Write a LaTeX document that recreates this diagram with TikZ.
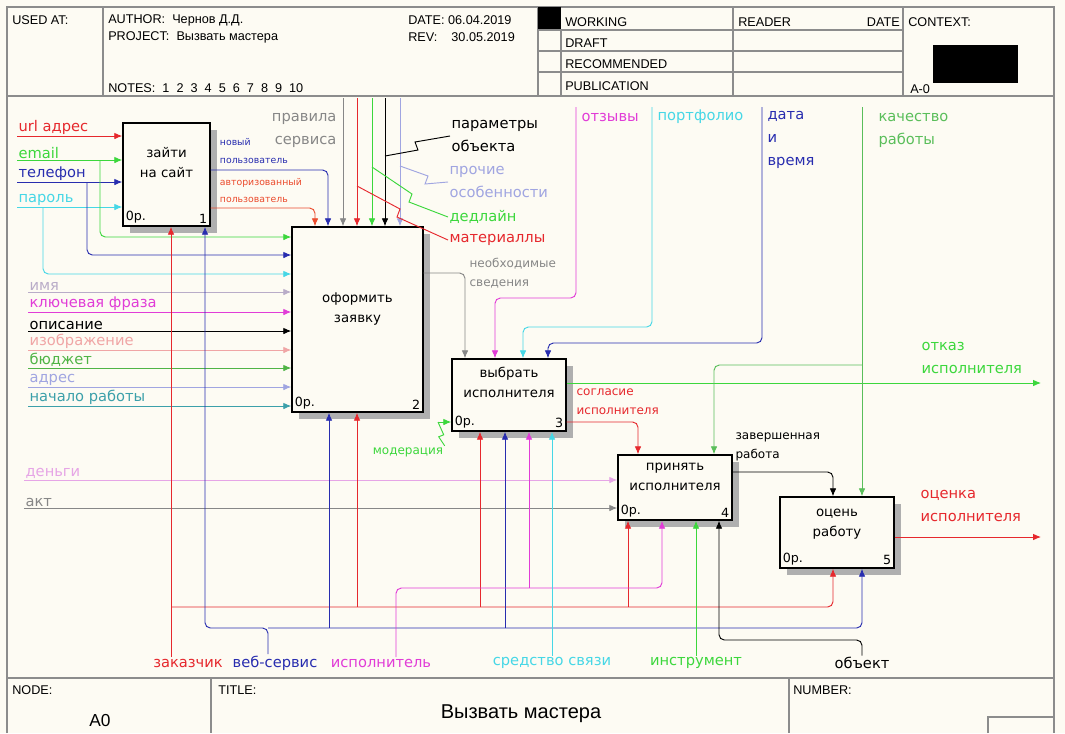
\documentclass[tikz,border=0pt]{standalone}
\usepackage{fontspec}
\setmainfont{Liberation Sans}
\newfontfamily\lblfont{DejaVu Sans}
\usepackage{xcolor}
\usetikzlibrary{arrows.meta,positioning,calc,shadows}
\definecolor{paper}{RGB}{253,251,243}
\definecolor{shadowGray}{RGB}{175,175,175}
\definecolor{frameGray}{RGB}{140,140,140}
\definecolor{cRed}{RGB}{230,40,45}
\definecolor{cOrange}{RGB}{235,75,45}
\definecolor{cGreen}{RGB}{60,215,60}
\definecolor{cBlue}{RGB}{40,45,175}
\definecolor{cCyan}{RGB}{70,215,230}
\definecolor{cGray}{RGB}{135,135,135}
\definecolor{cMag}{RGB}{225,60,215}
\definecolor{cPink}{RGB}{240,165,165}
\definecolor{cBudget}{RGB}{80,180,70}
\definecolor{cLav}{RGB}{160,165,225}
\definecolor{cTeal}{RGB}{60,160,170}
\definecolor{cName}{RGB}{185,172,200}
\definecolor{cMoney}{RGB}{230,165,230}
\definecolor{cQual}{RGB}{90,190,90}

\begin{document}
\begin{tikzpicture}[
  x=0.75pt, y=-0.75pt,
  every node/.style={font=\fontsize{9.5}{11}\selectfont},
  hdr/.style={anchor=west, inner sep=0pt},
  fbox/.style={draw, line width=1.1pt, fill=paper, inner sep=0pt,
    drop shadow={shadow xshift=5pt, shadow yshift=-5pt, fill=shadowGray, opacity=1}},
  btxt/.style={font=\lblfont\fontsize{10}{15}\selectfont, align=center},
  cornertxt/.style={font=\lblfont\fontsize{9.5}{10}\selectfont, inner sep=2.5pt},
  lbl/.style={font=\lblfont\fontsize{11}{17.25}\selectfont, inner sep=1pt, align=left},
  slbl/.style={font=\lblfont\fontsize{9}{14.5}\selectfont, inner sep=1pt, align=left},
  tlbl/.style={font=\lblfont\fontsize{7}{13}\selectfont, inner sep=0.5pt, align=left},
  arr/.style={-{Latex[length=6pt,width=5pt]}, line width=0.7pt},
  ln/.style={line width=0.7pt},
  frm/.style={draw=frameGray, line width=1pt}
]
  \path[fill=paper, use as bounding box] (0,0) rectangle (1065,733);

  % form
  \draw[frm] (7,733) -- (7,7) -- (1054,7) -- (1054,733);
  \draw[frm] (7,96) -- (1054,96);
  \draw[frm] (103,7) -- (103,96);
  \draw[frm] (538,7) -- (538,96);
  \draw[frm] (561,29) -- (561,96);
  \draw[frm] (733,7) -- (733,96);
  \draw[frm] (903,7) -- (903,96);
  \draw[frm] (538,30) -- (903,30);
  \draw[frm] (538,51) -- (903,51);
  \draw[frm] (538,72) -- (903,72);
  \fill (538,7) rectangle (561,29);
  \fill (933,45) rectangle (1018,83);
  \draw[frm] (7,678) -- (1054,678);
  \draw[frm] (211,678) -- (211,733);
  \draw[frm] (789,678) -- (789,733);
  \draw[frm] (988,733) -- (988,717) -- (1054,717);

  \node[hdr] (hUsed) at (12,20) {USED AT:};
  \node[hdr] (hAuth) at (108,20) {AUTHOR:\ \ Чернов Д.Д.};
  \node[hdr] (hProj) at (108,37) {PROJECT:\ \ Вызвать мастера};
  \node[hdr] (hNotes) at (108,88) {NOTES:\ \ 1\ \ 2\ \ 3\ \ 4\ \ 5\ \ 6\ \ 7\ \ 8\ \ 9\ \ 10};
  \node[hdr] (hDate) at (408,20) {DATE:\ 06.04.2019};
  \node[hdr] (hRev) at (408,37) {REV:\ \ \ \ 30.05.2019};
  \node[hdr] (hWork) at (565,22) {WORKING};
  \node[hdr] (hDraft) at (565,43) {DRAFT};
  \node[hdr] (hRec) at (565,64) {RECOMMENDED};
  \node[hdr] (hPub) at (565,86) {PUBLICATION};
  \node[hdr] (hRead) at (738,22) {READER};
  \node[hdr, anchor=east] (hRDate) at (900,22) {DATE};
  \node[hdr] (hCtx) at (908,22) {CONTEXT:};
  \node[hdr] (hA0) at (910,89) {A-0};
  \node[hdr] (fNode) at (12,690) {NODE:};
  \node[hdr] (fTitle) at (218,690) {TITLE:};
  \node[hdr] (fNum) at (793,690) {NUMBER:};
  \node[font=\fontsize{15}{17}\selectfont] (fName) at (521,714) {Вызвать мастера};
  \node[font=\fontsize{13}{15}\selectfont] (fA0) at (100,721) {A0};

  % activities
  \node[fbox, minimum width=65.25pt, minimum height=77.25pt,
    label={[cornertxt, anchor=south west]south west:0р.},
    label={[cornertxt, anchor=south east]south east:1}] (b1) at (166.5,174.5) {};
  \node[fbox, minimum width=98.25pt, minimum height=138.75pt,
    label={[cornertxt, anchor=south west]south west:0р.},
    label={[cornertxt, anchor=south east]south east:2}] (b2) at (357.5,319.5) {};
  \node[fbox, minimum width=85.5pt, minimum height=54pt,
    label={[cornertxt, anchor=south west]south west:0р.},
    label={[cornertxt, anchor=south east]south east:3}] (b3) at (509,395) {};
  \node[fbox, minimum width=85.5pt, minimum height=48.75pt,
    label={[cornertxt, anchor=south west]south west:0р.},
    label={[cornertxt, anchor=south east]south east:4}] (b4) at (675,487.5) {};
  \node[fbox, minimum width=85.5pt, minimum height=53.25pt,
    label={[cornertxt, anchor=south west]south west:0р.},
    label={[cornertxt, anchor=south east]south east:5}] (b5) at (837,532.5) {};
  \node[btxt] (b1t) at (166.5,163) {зайти\\на сайт};
  \node[btxt] (b2t) at (357.5,309) {оформить\\заявку};
  \node[btxt] (b3t) at (509,382) {выбрать\\исполнителя};
  \node[btxt] (b4t) at (675,477) {принять\\исполнителя};
  \node[btxt] (b5t) at (837,524) {оцень\\работу};

  % inputs of 1
  \node[lbl, text=cRed, anchor=south west] (lUrl) at (17,136) {url адрес};
  \node[lbl, text=cGreen, anchor=south west] (lMail) at (17,160) {email};
  \node[lbl, text=cBlue, anchor=south west] (lTel) at (17,182) {телефон};
  \node[lbl, text=cCyan, anchor=south west] (lPw) at (17,207) {пароль};
  \draw[arr, cRed] (lUrl.south west) -- (lUrl.south west -| b1.west);
  \draw[arr, cGreen] (lMail.south west) -- (lMail.south west -| b1.west);
  \draw[arr, cBlue] (lTel.south west) -- (lTel.south west -| b1.west);
  \draw[arr, cCyan] (lPw.south west) -- (lPw.south west -| b1.west);
  \coordinate (mailB) at (100,237);
  \coordinate (telB) at (87,255);
  \coordinate (pwB) at (43,274);
  \draw[arr, cGreen, rounded corners=4pt] (lMail.south west -| mailB) -- (mailB) -- (mailB -| b2.west);
  \draw[arr, cBlue, rounded corners=4pt] (lTel.south west -| telB) -- (telB) -- (telB -| b2.west);
  \draw[arr, cCyan, rounded corners=4pt] (lPw.south west -| pwB) -- (pwB) -- (pwB -| b2.west);

  % outputs of 1
  \node[tlbl, text=cBlue, anchor=west] (lNew) at (219,151) {новый\\пользователь};
  \node[tlbl, text=cOrange, anchor=west] (lAuth) at (219,190.5) {авторизованный\\пользователь};
  \coordinate (newC) at (328,170);
  \coordinate (authC) at (315,208);
  \draw[arr, cBlue, rounded corners=4pt] (newC -| b1.east) -- (newC) -- (newC |- b2.north);
  \draw[arr, cOrange, rounded corners=4pt] (authC -| b1.east) -- (authC) -- (authC |- b2.north);

  % inputs of 2
  \node[lbl, text=cName, anchor=south west] (lName) at (28,292) {имя};
  \node[lbl, text=cMag, anchor=south west] (lKey) at (28,312) {ключевая фраза};
  \node[lbl, anchor=south west] (lDesc) at (28,331) {описание};
  \node[lbl, text=cPink, anchor=south west] (lImg) at (28,350) {изображение};
  \node[lbl, text=cBudget, anchor=south west] (lBud) at (28,368) {бюджет};
  \node[lbl, text=cLav, anchor=south west] (lAddr) at (28,387) {адрес};
  \node[lbl, text=cTeal, anchor=south west] (lStart) at (28,406) {начало работы};
  \draw[arr, cName] (lName.south west) -- (lName.south west -| b2.west);
  \draw[arr, cMag] (lKey.south west) -- (lKey.south west -| b2.west);
  \draw[arr] (lDesc.south west) -- (lDesc.south west -| b2.west);
  \draw[arr, cPink] (lImg.south west) -- (lImg.south west -| b2.west);
  \draw[arr, cBudget] (lBud.south west) -- (lBud.south west -| b2.west);
  \draw[arr, cLav] (lAddr.south west) -- (lAddr.south west -| b2.west);
  \draw[arr, cTeal] (lStart.south west) -- (lStart.south west -| b2.west);

  % controls of 2
  \coordinate (tRule) at (343,98);
  \coordinate (tMat) at (357,98);
  \coordinate (tDl) at (372,98);
  \coordinate (tPar) at (385,98);
  \coordinate (tEtc) at (400,98);
  \draw[arr, cGray] (tRule) -- (tRule |- b2.north);
  \draw[arr, cRed] (tMat) -- (tMat |- b2.north);
  \draw[arr, cGreen] (tDl) -- (tDl |- b2.north);
  \draw[arr] (tPar) -- (tPar |- b2.north);
  \draw[arr, cLav] (tEtc) -- (tEtc |- b2.north);
  \node[lbl, text=cGray, anchor=east, align=right] (lRule) at (338,130) {правила\\сервиса};
  \node[lbl, anchor=west] (lPar) at (450,136) {параметры\\объекта};
  \node[lbl, text=cLav, anchor=west] (lEtc) at (448,182) {прочие\\особенности};
  \node[lbl, text=cGreen, anchor=west] (lDl) at (448,217) {дедлайн};
  \node[lbl, text=cRed, anchor=west] (lMat) at (448,240) {материаллы};
  \coordinate (sqPar) at (385,156);
  \coordinate (sqEtc) at (400,166);
  \coordinate (sqDl) at (372,167);
  \coordinate (sqMat) at (357,186);
  \draw[ln] (sqPar) -- ++(33,-6) -- ++(-3,-8) -- (lPar.west);
  \draw[ln, cLav] (sqEtc) -- ++(28,10) -- ++(-3,8) -- (lEtc.west);
  \draw[ln, cGreen] (sqDl) -- ++(40,27) -- ++(-3,8) -- (lDl.west);
  \draw[ln, cRed] (sqMat) -- ++(43,23) -- ++(-3,8) -- (lMat.west);

  % output of 2
  \node[slbl, text=cGray, anchor=west] (lInfo) at (468,273) {необходимые\\сведения};
  \coordinate (infC) at (465,273);
  \draw[arr, cGray, rounded corners=4pt] (infC -| b2.east) -- (infC) -- (infC |- b3.north);

  % controls of 3
  \node[lbl, text=cMag, anchor=west] (lRev) at (580,117) {отзывы};
  \node[lbl, text=cCyan, anchor=west] (lPort) at (656,117) {портфолио};
  \node[lbl, text=cBlue, anchor=west] (lTime) at (766,140) {дата\\и\\время};
  \coordinate (revT) at (576,107);
  \coordinate (revC) at (495,298);
  \coordinate (portT) at (652,107);
  \coordinate (portC) at (523,327);
  \coordinate (timeT) at (762,107);
  \coordinate (timeC) at (548,343);
  \draw[arr, cMag, rounded corners=4pt] (revT) |- (revC) -- (revC |- b3.north);
  \draw[arr, cCyan, rounded corners=4pt] (portT) |- (portC) -- (portC |- b3.north);
  \draw[arr, cBlue, rounded corners=4pt] (timeT) |- (timeC) -- (timeC |- b3.north);

  % input of 3
  \node[slbl, text=cGreen] (lMod) at (408,452) {модерация};
  \coordinate (modS) at (438,422);
  \draw[arr, cGreen] (modS) -- (modS -| b3.west);
  \draw[ln, cGreen] (lMod.north east) -- ++(-6,-9) -- ++(5,-2) -- (modS);

  % outputs of 3
  \node[lbl, text=cGreen, anchor=west] (lRej) at (920,358) {отказ\\исполнителя};
  \coordinate (rejE) at (1041,383);
  \draw[arr, cGreen] (rejE -| b3.east) -- (rejE);
  \node[slbl, text=cRed, anchor=west] (lAgr) at (575,402) {согласие\\исполнителя};
  \coordinate (agrC) at (638,422);
  \draw[arr, cRed, rounded corners=4pt] (agrC -| b3.east) -- (agrC) -- (agrC |- b4.north);

  % controls of 4 and 5
  \node[lbl, text=cQual, anchor=west] (lQual) at (877,130) {качество\\работы};
  \coordinate (qualT) at (862,107);
  \coordinate (qualC) at (714,365);
  \draw[arr, cQual] (qualT) -- (qualT |- b5.north);
  \draw[arr, cQual, rounded corners=4pt] (qualT |- qualC) -- (qualC) -- (qualC |- b4.north);

  % inputs of 4
  \node[lbl, text=cMoney, anchor=south west] (lMoney) at (24,480) {деньги};
  \node[lbl, text=cGray, anchor=south west] (lAct) at (24,508) {акт};
  \draw[arr, cMoney] (lMoney.south west) -- (lMoney.south west -| b4.west);
  \draw[arr, cGray] (lAct.south west) -- (lAct.south west -| b4.west);

  % outputs of 4 and 5
  \node[slbl, anchor=west] (lDone) at (734,447) {завершенная\\работа};
  \coordinate (doneC) at (833,472);
  \draw[arr, rounded corners=4pt] (doneC -| b4.east) -- (doneC) -- (doneC |- b5.north);
  \node[lbl, text=cRed, anchor=west] (lEval) at (919,506) {оценка\\исполнителя};
  \coordinate (evalE) at (1041,537);
  \draw[arr, cRed] (evalE -| b5.east) -- (evalE);

  % mechanisms
  \node[lbl, text=cRed] (lCust) at (188,663) {заказчик};
  \node[lbl, text=cBlue] (lWeb) at (275,663) {веб-сервис};
  \node[lbl, text=cMag] (lExec) at (381,663) {исполнитель};
  \node[lbl, text=cCyan] (lComm) at (552,663) {средство связи};
  \node[lbl, text=cGreen] (lTool) at (696,663) {инструмент};
  \node[lbl] (lObj) at (862,663) {объект};

  \coordinate (custA) at (171,607);
  \coordinate (custB) at (833,607);
  \coordinate (cust2) at (357,607);
  \coordinate (cust3) at (480,607);
  \coordinate (cust4) at (628,607);
  \draw[arr, cRed] (lCust.north -| custA) -- (custA |- b1.south);
  \draw[arr, cRed, rounded corners=4pt] (custA) -| (custB |- b5.south);
  \draw[arr, cRed] (cust2) -- (cust2 |- b2.south);
  \draw[arr, cRed] (cust3) -- (cust3 |- b3.south);
  \draw[arr, cRed] (cust4) -- (cust4 |- b4.south);

  \coordinate (webM) at (268,628);
  \coordinate (webA) at (205,628);
  \coordinate (webB) at (862,628);
  \coordinate (web2) at (329,628);
  \coordinate (web3) at (505,628);
  \draw[arr, cBlue, rounded corners=4pt] (lWeb.north -| webM) -- (webM) -| (webA |- b1.south);
  \draw[arr, cBlue, rounded corners=4pt] (webM) -| (webB |- b5.south);
  \draw[arr, cBlue] (web2) -- (web2 |- b2.south);
  \draw[arr, cBlue] (web3) -- (web3 |- b3.south);

  \coordinate (exA) at (396,588);
  \coordinate (exB) at (662,588);
  \coordinate (ex3) at (529,588);
  \draw[arr, cMag, rounded corners=4pt] (lExec.north -| exA) -- (exA) -| (exB |- b4.south);
  \draw[arr, cMag] (ex3) -- (ex3 |- b3.south);

  \draw[arr, cCyan] (lComm.north) -- (lComm.north |- b3.south);
  \draw[arr, cGreen] (lTool.north) -- (lTool.north |- b4.south);
  \coordinate (objC) at (719,640);
  \draw[arr, rounded corners=4pt] (lObj.north) |- (objC) -- (objC |- b4.south);
\end{tikzpicture}
\end{document}
